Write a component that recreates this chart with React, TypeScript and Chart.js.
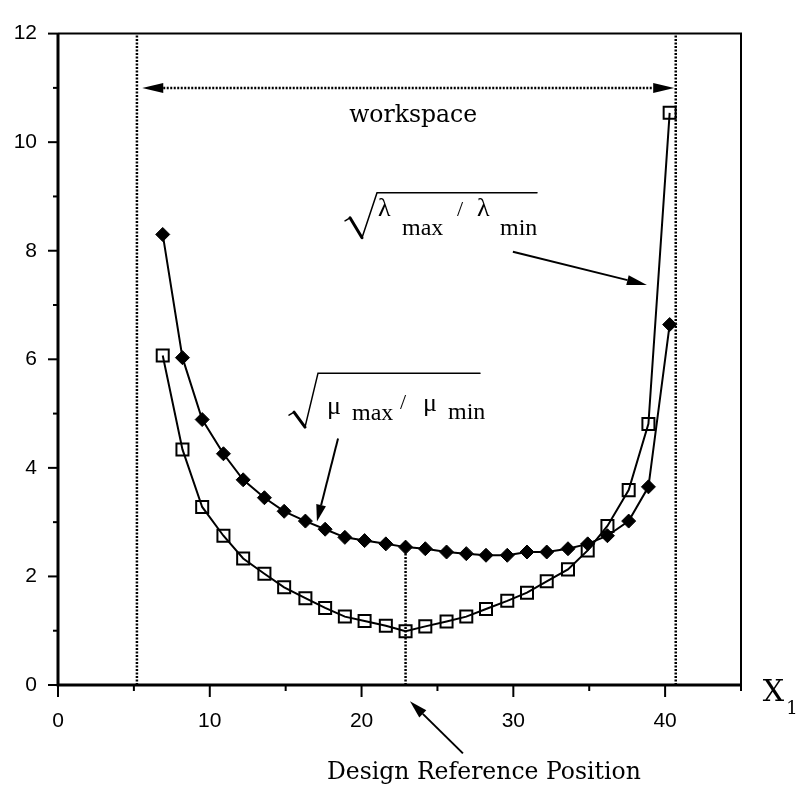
import React, { useEffect, useRef } from "react";
import { Chart, registerables } from "chart.js";

Chart.register(...registerables);

// ---- data ----
const xPositions = [6.9, 8.2, 9.5, 10.9, 12.2, 13.6, 14.9, 16.3, 17.6, 18.9, 20.2, 21.6, 22.9, 24.2, 25.6, 26.9, 28.2, 29.6, 30.9, 32.2, 33.6, 34.9, 36.2, 37.6, 38.9, 40.3];
const muRatio = [8.3, 6.03, 4.89, 4.26, 3.78, 3.45, 3.2, 3.02, 2.87, 2.72, 2.66, 2.6, 2.54, 2.51, 2.45, 2.42, 2.39, 2.39, 2.45, 2.45, 2.51, 2.6, 2.75, 3.02, 3.65, 6.64];
const lambdaRatio = [6.07, 4.34, 3.28, 2.75, 2.33, 2.05, 1.8, 1.6, 1.42, 1.26, 1.18, 1.09, 0.99, 1.08, 1.17, 1.26, 1.4, 1.55, 1.7, 1.91, 2.13, 2.48, 2.93, 3.59, 4.81, 10.54];

const xRange = [0, 45];
const yRange = [0, 12];
const xTickStep = 5;
const xLabelStep = 10;
const yTickStep = 1;
const yLabelStep = 2;

const workspaceBounds = [5.2, 40.7];
const workspaceArrowEnds = [5.55, 40.6];
const workspaceArrowY = 11;
const designPosition = 22.9;
const designValue = 2.54;

const workspaceText = "workspace";
const designText = "Design Reference Position";
const axisLabelMain = "X";
const axisLabelSub = "1";

// annotation anchors, in data units
const workspaceTextAt = { x: 23.4, y: 10.37 };
const designTextAt = { x: 17.72, y: -1.74 };
const axisLabelAt = { x: 46.44, y: -0.3 };
const lambdaLabelAt = { x: 18.91, y: 8.57 };
const muLabelAt = { x: 15.22, y: 4.99 };
const lambdaArrow = { from: { x: 29.97, y: 7.98 }, to: { x: 38.8, y: 7.37 } };
const muArrow = { from: { x: 18.45, y: 4.54 }, to: { x: 17.06, y: 3.01 } };
const designArrow = { from: { x: 26.68, y: -1.26 }, to: { x: 23.19, y: -0.3 } };

const W = 798;
const H = 796;
const SERIF_TEX = '"DejaVu Serif", serif';
const SERIF_TIMES = '"Liberation Serif", "Times New Roman", serif';
const SANS = '"Liberation Sans", Arial, sans-serif';

function arrowHead(ctx: CanvasRenderingContext2D, x1: number, y1: number, x2: number, y2: number, len: number, half: number) {
  const a = Math.atan2(y2 - y1, x2 - x1);
  const bx = x2 - len * Math.cos(a);
  const by = y2 - len * Math.sin(a);
  ctx.beginPath();
  ctx.moveTo(x2, y2);
  ctx.lineTo(bx + half * Math.sin(a), by - half * Math.cos(a));
  ctx.lineTo(bx - half * Math.sin(a), by + half * Math.cos(a));
  ctx.closePath();
  ctx.fill();
  return { bx, by };
}

function arrow(ctx: CanvasRenderingContext2D, x1: number, y1: number, x2: number, y2: number, len = 18, half = 5) {
  ctx.setLineDash([]);
  ctx.lineWidth = 2;
  const { bx, by } = arrowHead(ctx, x1, y1, x2, y2, len, half);
  ctx.beginPath();
  ctx.moveTo(x1, y1);
  ctx.lineTo(bx, by);
  ctx.stroke();
}

type RootSpec = {
  sym: string;
  bottom: [number, number];
  top: [number, number];
  barEnd: number;
  parts: { t: string; dx: number; dy: number; size: number }[];
};

function drawRootLabel(ctx: CanvasRenderingContext2D, x0: number, y0: number, spec: RootSpec) {
  ctx.setLineDash([]);
  ctx.lineCap = "round";
  ctx.lineWidth = 1.5;
  ctx.beginPath();
  ctx.moveTo(x0, y0 + 1);
  ctx.lineTo(x0 + 5, y0 - 2);
  ctx.stroke();
  ctx.lineWidth = 3;
  ctx.beginPath();
  ctx.moveTo(x0 + 5, y0 - 2);
  ctx.lineTo(x0 + spec.bottom[0], y0 + spec.bottom[1]);
  ctx.stroke();
  ctx.lineWidth = 1.5;
  ctx.beginPath();
  ctx.moveTo(x0 + spec.bottom[0], y0 + spec.bottom[1]);
  ctx.lineTo(x0 + spec.top[0], y0 + spec.top[1]);
  ctx.lineTo(x0 + spec.barEnd, y0 + spec.top[1]);
  ctx.stroke();
  ctx.lineCap = "butt";
  ctx.textAlign = "left";
  ctx.textBaseline = "alphabetic";
  for (const p of spec.parts) {
    ctx.font = `${p.size}px ${SERIF_TIMES}`;
    ctx.fillText(p.t, x0 + p.dx, y0 + p.dy);
  }
}

const lambdaSpec: RootSpec = {
  sym: "λ",
  bottom: [17, 18],
  top: [32, -27],
  barEnd: 192,
  parts: [
    { t: "λ", dx: 33, dy: -4, size: 26 },
    { t: "max", dx: 57, dy: 15, size: 24 },
    { t: "/", dx: 112, dy: -4, size: 22 },
    { t: "λ", dx: 132, dy: -4, size: 26 },
    { t: "min", dx: 155, dy: 15, size: 24 },
  ],
};

const muSpec: RootSpec = {
  sym: "μ",
  bottom: [16, 13],
  top: [29, -41],
  barEnd: 191,
  parts: [
    { t: "μ", dx: 38, dy: 0, size: 26 },
    { t: "max", dx: 63, dy: 6, size: 24 },
    { t: "/", dx: 111, dy: -5, size: 22 },
    { t: "μ", dx: 134, dy: -3, size: 26 },
    { t: "min", dx: 159, dy: 5, size: 24 },
  ],
};

const overlayPlugin = {
  id: "overlay",
  afterDraw(chart: any) {
    const ctx: CanvasRenderingContext2D = chart.ctx;
    const xs = chart.scales.x;
    const ys = chart.scales.y;
    const X = (v: number) => xs.getPixelForValue(v);
    const Y = (v: number) => ys.getPixelForValue(v);
    const area = chart.chartArea;
    ctx.save();
    ctx.strokeStyle = "#000";
    ctx.fillStyle = "#000";
    ctx.setLineDash([]);

    // frame
    ctx.lineWidth = 2;
    ctx.beginPath();
    ctx.moveTo(area.left, area.top);
    ctx.lineTo(area.right, area.top);
    ctx.lineTo(area.right, area.bottom);
    ctx.stroke();
    ctx.lineWidth = 3;
    ctx.beginPath();
    ctx.moveTo(area.left, area.top);
    ctx.lineTo(area.left, area.bottom);
    ctx.lineTo(area.right + 1, area.bottom);
    ctx.stroke();

    // tick marks
    ctx.lineWidth = 2;
    for (const t of xs.ticks) {
      const px = X(t.value);
      const major = Math.abs(t.value % xLabelStep) < 1e-6;
      ctx.beginPath();
      ctx.moveTo(px, area.bottom);
      ctx.lineTo(px, area.bottom + (major ? 12 : 6));
      ctx.stroke();
    }
    for (const t of ys.ticks) {
      const py = Y(t.value);
      const major = Math.abs(t.value % yLabelStep) < 1e-6;
      ctx.beginPath();
      ctx.moveTo(area.left, py);
      ctx.lineTo(area.left - (major ? 10 : 5), py);
      ctx.stroke();
    }

    // workspace double arrow (dotted)
    const ay = Y(workspaceArrowY);
    const ax1 = X(workspaceArrowEnds[0]);
    const ax2 = X(workspaceArrowEnds[1]);
    const h1 = arrowHead(ctx, ax2, ay, ax1, ay, 21, 5);
    const h2 = arrowHead(ctx, ax1, ay, ax2, ay, 21, 5);
    ctx.lineWidth = 2.5;
    ctx.setLineDash([2, 1.5]);
    ctx.beginPath();
    ctx.moveTo(h1.bx, ay);
    ctx.lineTo(h2.bx, ay);
    ctx.stroke();
    ctx.setLineDash([]);

    // texts
    ctx.textBaseline = "alphabetic";
    ctx.textAlign = "center";
    ctx.font = `23.5px ${SERIF_TEX}`;
    ctx.fillText(workspaceText, X(workspaceTextAt.x), Y(workspaceTextAt.y));
    ctx.textAlign = "left";
    ctx.font = `23.5px ${SERIF_TEX}`;
    ctx.fillText(designText, X(designTextAt.x), Y(designTextAt.y));
    ctx.font = `30px ${SERIF_TEX}`;
    const axX = X(axisLabelAt.x);
    const axY = Y(axisLabelAt.y);
    ctx.fillText(axisLabelMain, axX, axY);
    const wX = ctx.measureText(axisLabelMain).width;
    ctx.font = `18px ${SERIF_TEX}`;
    ctx.fillText(axisLabelSub, axX + wX + 2, axY + 13);

    // sqrt labels
    drawRootLabel(ctx, X(lambdaLabelAt.x), Y(lambdaLabelAt.y), lambdaSpec);
    drawRootLabel(ctx, X(muLabelAt.x), Y(muLabelAt.y), muSpec);

    // pointer arrows
    arrow(ctx, X(lambdaArrow.from.x), Y(lambdaArrow.from.y), X(lambdaArrow.to.x), Y(lambdaArrow.to.y), 20, 5);
    arrow(ctx, X(muArrow.from.x), Y(muArrow.from.y), X(muArrow.to.x), Y(muArrow.to.y), 17, 5);
    arrow(ctx, X(designArrow.from.x), Y(designArrow.from.y), X(designArrow.to.x), Y(designArrow.to.y), 18, 5);

    ctx.restore();
  },
};

export default function App() {
  const canvasRef = useRef<HTMLCanvasElement | null>(null);

  useEffect(() => {
    const canvas = canvasRef.current;
    if (!canvas) return;

    const dotted = {
      borderColor: "#000",
      borderWidth: 2.5,
      borderDash: [2, 1.5],
      pointRadius: 0,
      fill: false,
      tension: 0,
    };

    const chart = new Chart(canvas, {
      type: "line",
      data: {
        datasets: [
          {
            ...dotted,
            label: "workspace-left",
            data: [
              { x: workspaceBounds[0], y: yRange[0] },
              { x: workspaceBounds[0], y: yRange[1] },
            ],
          },
          {
            ...dotted,
            label: "workspace-right",
            data: [
              { x: workspaceBounds[1], y: yRange[0] },
              { x: workspaceBounds[1], y: yRange[1] },
            ],
          },
          {
            ...dotted,
            label: "design",
            data: [
              { x: designPosition, y: 0 },
              { x: designPosition, y: designValue },
            ],
          },
          {
            label: "sqrt(mu_max/mu_min)",
            data: xPositions.map((x, i) => ({ x, y: muRatio[i] })),
            borderColor: "#000",
            borderWidth: 2,
            tension: 0,
            pointStyle: "rectRot",
            pointRadius: 7,
            pointBackgroundColor: "#000",
            pointBorderColor: "#000",
            pointBorderWidth: 1,
          },
          {
            label: "sqrt(lambda_max/lambda_min)",
            data: xPositions.map((x, i) => ({ x, y: lambdaRatio[i] })),
            borderColor: "#000",
            borderWidth: 2,
            tension: 0,
            pointStyle: "rect",
            pointRadius: 8.5,
            pointBackgroundColor: "rgba(0,0,0,0)",
            pointBorderColor: "#000",
            pointBorderWidth: 2,
          },
        ],
      },
      options: {
        animation: false,
        responsive: false,
        devicePixelRatio: 1,
        layout: { padding: { top: 16, right: 57, left: 0, bottom: 0 } },
        plugins: {
          legend: { display: false },
          tooltip: { enabled: false },
          title: { display: false },
        },
        scales: {
          x: {
            type: "linear",
            min: xRange[0],
            max: xRange[1],
            grid: { display: false, drawTicks: false },
            border: { display: false },
            ticks: {
              stepSize: xTickStep,
              color: "#000",
              padding: 24,
              font: { family: SANS, size: 21 },
              maxRotation: 0,
              autoSkip: false,
              callback: (v: any) => (Math.abs(Number(v) % xLabelStep) < 1e-6 && Number(v) < xRange[1] ? String(v) : ""),
            },
            afterFit: (s: any) => {
              s.height = 111;
            },
          },
          y: {
            type: "linear",
            min: yRange[0],
            max: yRange[1],
            grid: { display: false, drawTicks: false },
            border: { display: false },
            ticks: {
              stepSize: yTickStep,
              color: "#000",
              padding: 21,
              font: { family: SANS, size: 21 },
              autoSkip: false,
              callback: (v: any) => (Math.abs(Number(v) % yLabelStep) < 1e-6 ? String(v) : ""),
            },
            afterFit: (s: any) => {
              s.width = 58;
            },
          },
        },
      },
      plugins: [overlayPlugin],
    });

    return () => chart.destroy();
  }, []);

  return (
    <div style={{ position: "absolute", left: 0, top: 0, width: W, height: H, background: "#fff" }}>
      <canvas ref={canvasRef} width={W} height={H} style={{ display: "block", width: W, height: H }} />
    </div>
  );
}
